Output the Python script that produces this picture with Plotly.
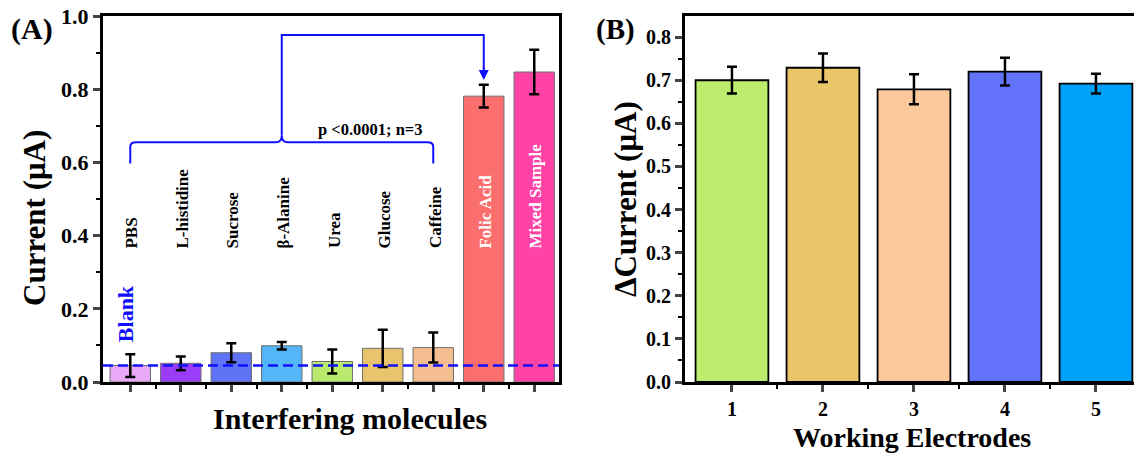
import plotly.graph_objects as go

# ---------------- data ----------------
molecules = ["PBS", "L-histidine", "Sucrose", "β-Alanine", "Urea", "Glucose",
             "Caffeine", "Folic Acid", "Mixed Sample"]
mol_current = [0.045, 0.051, 0.080, 0.099, 0.056, 0.092, 0.094, 0.781, 0.847]
mol_error = [0.031, 0.019, 0.026, 0.010, 0.033, 0.051, 0.041, 0.031, 0.061]
mol_colors = ["#e9a9f7", "#9b3df8", "#5f73f7", "#52b6f9", "#b9ea6d", "#e8c46c",
              "#f4be90", "#fb6e6e", "#ff43a6"]
blank_level = 0.045

electrodes = [1, 2, 3, 4, 5]
delta_current = [0.700, 0.729, 0.679, 0.720, 0.692]
delta_error = [0.031, 0.033, 0.035, 0.032, 0.023]
elec_colors = ["#bdeb6d", "#ebc56a", "#fac89b", "#6272f9", "#00a2f9"]

W, H = 1134, 455
FONT = "Liberation Serif"
BLUE = "#1010ff"

def px(x):
    return x / W

def py(y):
    return 1 - y / H

xa = list(range(len(molecules)))

fig = go.Figure()

fig.add_trace(go.Bar(
    x=xa, y=mol_current, width=0.8,
    marker=dict(color=mol_colors, line=dict(color="#6e6e6e", width=1)),
    error_y=dict(type="data", array=mol_error, color="black", thickness=2.5, width=5),
    xaxis="x", yaxis="y", showlegend=False))

fig.add_trace(go.Bar(
    x=electrodes, y=delta_current, width=0.8,
    marker=dict(color=elec_colors, line=dict(color="black", width=1.8)),
    error_y=dict(type="data", array=delta_error, color="black", thickness=2.5, width=5),
    xaxis="x2", yaxis="y2", showlegend=False))

# blank dashed line
fig.add_shape(type="line", xref="x domain", yref="y", x0=0, x1=1,
              y0=blank_level, y1=blank_level,
              line=dict(color=BLUE, width=2.5, dash="10px,5px"))

# curly bracket and arrow
i_first, i_mid, i_last, i_target = 0, 3, 6, 7
yb, yb_end, ytop, yarrow = 0.655, 0.597, 0.948, 0.825
path = (f"M {i_first},{yb_end} L {i_first},{yb-0.012} Q {i_first},{yb} {i_first+0.12},{yb} "
        f"L {i_mid-0.12},{yb} Q {i_mid},{yb} {i_mid},{yb+0.018} "
        f"Q {i_mid},{yb} {i_mid+0.12},{yb} L {i_last-0.12},{yb} "
        f"Q {i_last},{yb} {i_last},{yb-0.012} L {i_last},{yb_end}")
fig.add_shape(type="path", xref="x", yref="y", path=path,
              line=dict(color=BLUE, width=2))
fig.add_shape(type="path", xref="x", yref="y",
              path=f"M {i_mid},{yb+0.018} L {i_mid},{ytop} L {i_target},{ytop} L {i_target},{yarrow+0.03}",
              line=dict(color=BLUE, width=2))
fig.add_annotation(x=i_target, y=yarrow, ax=i_target, ay=yarrow + 0.04,
                   xref="x", yref="y", axref="x", ayref="y", showarrow=True,
                   arrowhead=2, arrowsize=1, arrowwidth=2, arrowcolor=BLUE, text="")

fig.add_annotation(x=4.75, y=0.69, xref="x", yref="y", text="p <0.0001; n=3",
                   showarrow=False, xanchor="center", yanchor="middle",
                   font=dict(family=FONT, size=16.5, color="black", weight="bold"))

# category labels
for i, name in enumerate(molecules):
    white = i >= 7
    fig.add_annotation(x=i + 0.03, y=0.36, xref="x", yref="y", text=name, textangle=-90,
                       showarrow=False, yanchor="bottom", xanchor="center",
                       font=dict(family=FONT, size=17, weight="bold",
                                 color="white" if white else "black"))

fig.add_annotation(x=-0.08, y=0.186, xref="x", yref="y", text="Blank", textangle=-90,
                   showarrow=False, xanchor="center", yanchor="middle",
                   font=dict(family=FONT, size=22, color=BLUE, weight="bold"))

# panel labels and titles
def paper_text(x, y, text, size, angle=0):
    fig.add_annotation(x=px(x), y=py(y), xref="paper", yref="paper", text=text,
                       textangle=angle, showarrow=False, xanchor="center", yanchor="middle",
                       font=dict(family=FONT, size=size, color="black", weight="bold"))

paper_text(32, 29, "(A)", 30)
paper_text(615, 30, "(B)", 29)
paper_text(34, 218, "Current (μA)", 31, -90)
paper_text(350, 418, "Interfering molecules", 30)
paper_text(625, 199, "ΔCurrent (μA)", 31, -90)
paper_text(912, 437, "Working Electrodes", 28)

tickfont = dict(family=FONT, size=22, color="black", weight="bold")
tickfont_b = dict(family=FONT, size=20, color="black", weight="bold")
ydom = [py(382), py(16)]

fig.update_layout(
    width=W, height=H, margin=dict(l=0, r=0, t=0, b=0, autoexpand=False),
    paper_bgcolor="white", plot_bgcolor="white", bargap=0.2,
    font=dict(family=FONT, color="black"),
    xaxis=dict(domain=[px(103), px(559)], range=[-0.54, 8.49], tickmode="array",
               tickvals=xa, ticktext=[""] * len(xa), ticks="outside", ticklen=7, tickwidth=2.5,
               showline=True, linewidth=3, linecolor="black", mirror=True,
               showgrid=False, zeroline=False, automargin=False,
               minor=dict(tickmode="array", tickvals=[i + 0.5 for i in xa[:-1]],
                          ticks="outside", ticklen=4, tickwidth=2, tickcolor="black")),
    yaxis=dict(domain=ydom, range=[0, 1.0], dtick=0.2, tickformat=".1f",
               ticks="outside", ticklen=7, tickwidth=2.5, tickfont=tickfont,
               showline=True, linewidth=3, linecolor="black", mirror=True,
               showgrid=False, zeroline=False, automargin=False,
               minor=dict(dtick=0.1, ticks="outside", ticklen=4, tickwidth=2, tickcolor="black")),
    xaxis2=dict(domain=[px(685), 1.0], range=[0.484, 0.484 + (W - 685) / 91.0],
                tickmode="array", tickvals=electrodes, ticks="outside", ticklen=7, tickwidth=2.5,
                tickfont=tickfont_b, anchor="y2",
                showline=True, linewidth=3, linecolor="black", mirror=True,
                showgrid=False, zeroline=False, automargin=False,
                minor=dict(tickmode="array", tickvals=[e + 0.5 for e in electrodes[:-1]],
                           ticks="outside", ticklen=4, tickwidth=2, tickcolor="black")),
    yaxis2=dict(domain=ydom, range=[0, 0.849], dtick=0.1, tickformat=".1f", anchor="x2",
                ticks="outside", ticklen=7, tickwidth=2.5, tickfont=tickfont_b,
                showline=True, linewidth=3, linecolor="black", mirror=False,
                showgrid=False, zeroline=False, automargin=False,
                minor=dict(dtick=0.05, ticks="outside", ticklen=4, tickwidth=2, tickcolor="black")),
)

fig.write_html("out.html")
